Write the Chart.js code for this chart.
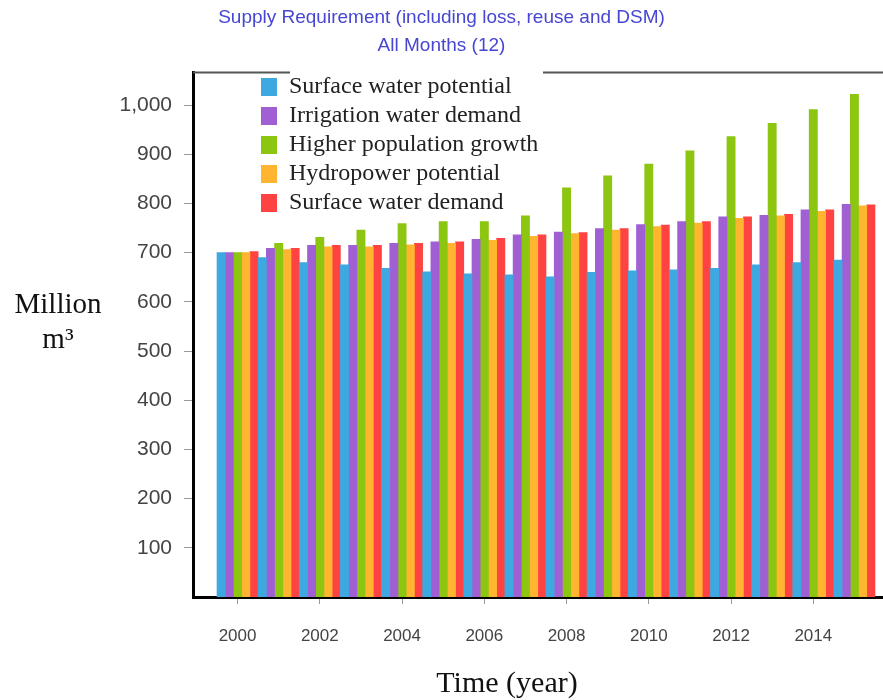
<!DOCTYPE html>
<html lang="en">
<head>
    <meta charset="UTF-8">
    <title>Supply Requirement</title>
    <style>
        body { margin: 0; background: #fff; }
        .chart-box { width: 883px; height: 700px; }
    </style>
</head>
<body>
    <div class="chart-box"><canvas id="supplyChart"></canvas></div>
    <script src="https://cdn.jsdelivr.net/npm/chart.js"></script>
    <script>
        // values (million m3)
        const years = [2000, 2001, 2002, 2003, 2004, 2005, 2006, 2007, 2008, 2009, 2010, 2011, 2012, 2013, 2014, 2015];
        const surfacePotential = [700, 690, 680, 675, 668, 661, 657, 655, 651, 660, 663, 665, 668, 675, 680, 685];
        const irrigationDemand = [700, 709, 715, 715, 719, 722, 727, 736, 742, 749, 757, 763, 773, 776, 787, 798];
        const higherPopulation = [700, 719, 731, 746, 759, 763, 763, 775, 832, 856, 880, 907, 936, 963, 991, 1022];
        const hydropowerPotential = [700, 706, 712, 712, 716, 719, 725, 733, 739, 746, 753, 760, 770, 775, 784, 795];
        const surfaceDemand = [702, 709, 715, 715, 719, 722, 729, 736, 741, 749, 756, 763, 773, 778, 787, 797];

        const seriesNames = ['Surface water potential', 'Irrigation water demand', 'Higher population growth', 'Hydropower potential', 'Surface water demand'];
        const seriesColors = ['#3ea8e0', '#a15fd4', '#8cc610', '#ffb530', '#ff4242'];
        const yearTicks = [2000, 2002, 2004, 2006, 2008, 2010, 2012, 2014];
        const valueTicks = [100, 200, 300, 400, 500, 600, 700, 800, 900, 1000];

        const seriesValues = [surfacePotential, irrigationDemand, higherPopulation, hydropowerPotential, surfaceDemand];

        Chart.defaults.font.family = '"Liberation Sans", Arial, sans-serif';

        // frame line, legend placement and the horizontal axis titles
        const extras = {
            id: 'extras',
            afterLayout(chart) {
                const lg = chart.legend;
                const w = lg.width, h = lg.height;
                lg.left = 256;
                lg.top = 70;
                lg.right = lg.left + w;
                lg.bottom = lg.top + h;
            },
            beforeDatasetsDraw(chart) {
                const { ctx, chartArea } = chart;
                const y = chartArea.top + 0.5;
                ctx.save();
                ctx.strokeStyle = '#555';
                ctx.lineWidth = 2;
                ctx.beginPath();
                ctx.moveTo(chartArea.left, y);
                ctx.lineTo(290, y);
                ctx.moveTo(543, y);
                ctx.lineTo(chartArea.right, y);
                ctx.stroke();
                ctx.restore();
            },
            afterDraw(chart) {
                const ctx = chart.ctx;
                ctx.save();
                ctx.fillStyle = '#111';
                ctx.textAlign = 'center';
                ctx.textBaseline = 'middle';
                ctx.font = '29px "Liberation Serif", "Times New Roman", serif';
                ctx.fillText('Million', 58, 305);
                ctx.fillText('m³', 58, 340);
                ctx.font = '30px "Liberation Serif", "Times New Roman", serif';
                ctx.fillText('Time (year)', 507, 684);
                ctx.restore();
            }
        };

        new Chart(document.getElementById('supplyChart'), {
            type: 'bar',
            data: {
                datasets: seriesNames.map((name, i) => ({
                    label: name,
                    data: years.map((yr, j) => ({ x: yr, y: seriesValues[i][j] })),
                    backgroundColor: seriesColors[i],
                    borderWidth: 0
                }))
            },
            options: {
                responsive: true,
                maintainAspectRatio: false,
                animation: false,
                layout: { padding: 0 },
                datasets: {
                    bar: { categoryPercentage: 1, barPercentage: 1 }
                },
                plugins: {
                    title: {
                        display: true,
                        text: ['Supply Requirement (including loss, reuse and DSM)', 'All Months (12)'],
                        color: '#4646d2',
                        font: { size: 19, weight: 'normal', lineHeight: 1.45 },
                        padding: { top: 4, bottom: 13 }
                    },
                    legend: {
                        position: 'chartArea',
                        align: 'start',
                        labels: {
                            boxWidth: 16,
                            boxHeight: 18,
                            padding: 5,
                            color: '#222',
                            font: { size: 24, family: '"Liberation Serif", "Times New Roman", serif' }
                        }
                    },
                    tooltip: { enabled: false }
                },
                scales: {
                    x: {
                        type: 'linear',
                        min: 1998.916,
                        max: 2015.695,
                        offset: false,
                        bounds: 'data',
                        afterFit(scale) { scale.height = 103; },
                        afterBuildTicks(scale) { scale.ticks = yearTicks.map(v => ({ value: v })); },
                        grid: { display: true, drawOnChartArea: false, offset: false, tickLength: 7, color: '#999' },
                        border: { display: true, color: '#000', width: 3 },
                        ticks: {
                            color: '#444',
                            padding: 22,
                            maxRotation: 0,
                            autoSkip: false,
                            font: { size: 17 },
                            callback: v => String(v)
                        }
                    },
                    y: {
                        min: 0,
                        max: 1067,
                        bounds: 'data',
                        afterFit(scale) { scale.width = 193; },
                        afterBuildTicks(scale) { scale.ticks = valueTicks.map(v => ({ value: v })); },
                        grid: { display: true, drawOnChartArea: false, tickLength: 9, color: '#999' },
                        border: { display: true, color: '#000', width: 3 },
                        ticks: {
                            color: '#444',
                            padding: 12,
                            font: { size: 21 },
                            callback: v => v.toLocaleString('en-US')
                        }
                    }
                }
            },
            plugins: [extras]
        });
    </script>
</body>
</html>
